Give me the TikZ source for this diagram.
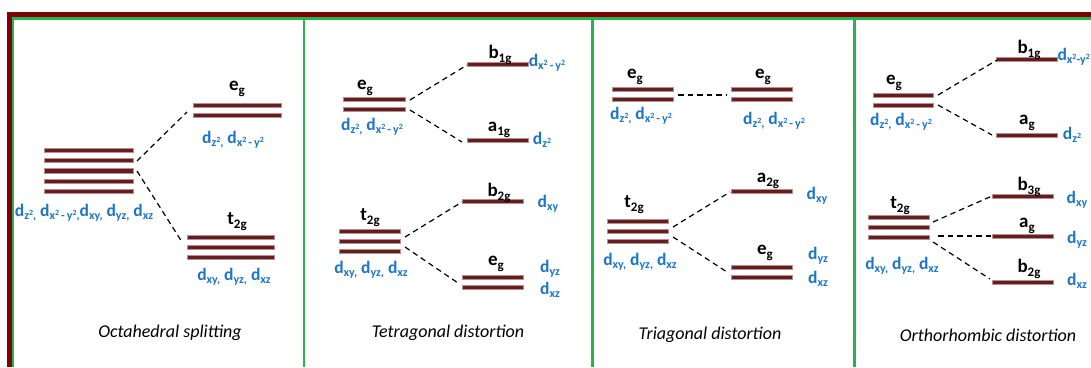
\documentclass[tikz,border=0pt]{standalone}
\usepackage{fontspec}
\setmainfont{Carlito}
\definecolor{barc}{RGB}{96,32,34}
\definecolor{baredge}{RGB}{190,140,140}
\definecolor{orbblue}{RGB}{28,118,200}
\definecolor{framered}{RGB}{128,0,10}
\definecolor{framegreen}{RGB}{40,178,80}
\newcommand\sbs[1]{\raisebox{-3.5pt}{\fontsize{12}{12}\selectfont #1}}
\newcommand\lsb[1]{\raisebox{-4pt}{\fontsize{13}{13}\selectfont #1}}
\newcommand\sq{\raisebox{4.5pt}{\fontsize{8}{8}\selectfont 2}}
\newcommand\dzz{d\sbs{z\sq}}
\newcommand\dxy{d\sbs{x\sq\,-\,y\sq}}
\newcommand\dxyt{d\sbs{x\sq-y\sq}}
\newcommand\lvl[4]{\node[bar, minimum width={#3-#2}] (#1) at ({(#2+#3)/2},#4) {};}
\begin{document}
\begin{tikzpicture}[x=1pt,y=-1pt,
  bar/.style={fill=barc, draw=baredge, line width=0.3pt, minimum height=4.3pt, inner sep=0pt, outer sep=0pt},
  conn/.style={draw=black, dash pattern=on 5.5pt off 4pt, line width=1.2pt},
  sym/.style={font=\fontsize{19}{19}\selectfont\bfseries, inner sep=0pt},
  orb/.style={font=\fontsize{17.5}{17.5}\selectfont\bfseries, text=orbblue, inner sep=0pt},
  ttl/.style={font=\fontsize{18}{18}\selectfont\itshape, inner sep=0pt},
  redline/.style={draw=framered, line width=5pt},
  greenline/.style={draw=framegreen, line width=2.5pt}]
\clip (0,0) rectangle (1091,367);
\fill[white] (0,0) rectangle (1091,367);
% frame
\draw[redline] (9.5,367) -- (9.5,14.5) -- (1095,14.5);
\draw[greenline] (13,367) -- (13,18.5) -- (1095,18.5);
\draw[greenline] (304,18) -- (304,367);
\draw[greenline] (592.5,18) -- (592.5,367);
\draw[greenline] (854.5,18) -- (854.5,367);

% ===== Octahedral splitting =====
\lvl{o1}{44}{133}{150}
\lvl{o2}{44}{133}{160.3}
\lvl{o3}{44}{133}{170.7}
\lvl{o4}{44}{133}{181}
\lvl{o5}{44}{133}{191}
\lvl{oe1}{193}{281}{105}
\lvl{oe2}{193}{281}{115}
\lvl{ot1}{187}{274}{237}
\lvl{ot2}{187}{274}{247}
\lvl{ot3}{187}{274}{257}
\node[orb] (oall) at (84,213) {\dzz\sbs{,} \dxy\sbs{,}d\sbs{xy,} d\sbs{yz,} d\sbs{xz}};
\node[sym] (oeg) at (237,89) {e\lsb{g}};
\node[orb] (oegd) at (233,140) {\dzz\sbs{,} \dxy};
\node[sym] (ot2g) at (237,222) {t\lsb{2g}};
\node[orb] (ot2gd) at (234,277) {d\sbs{xy,} d\sbs{yz,} d\sbs{xz}};
\coordinate (oA) at (137,161);
\coordinate (oB) at (187,112);
\coordinate (oC) at (137,171);
\coordinate (oD) at (182,242);
\draw[conn] (oA) -- (oB);
\draw[conn] (oC) -- (oD);
\node[ttl] (ottl) at (170,333) {Octahedral splitting};

% ===== Tetragonal distortion =====
\lvl{te1}{343}{405}{99}
\lvl{te2}{343}{405}{109}
\lvl{tb1}{467}{528}{64}
\lvl{ta1}{467}{528}{140}
\lvl{tt1}{339}{400}{231}
\lvl{tt2}{339}{400}{241}
\lvl{tt3}{339}{400}{251}
\lvl{tb2}{462}{523}{201}
\lvl{tee1}{462}{523}{277}
\lvl{tee2}{462}{523}{287}
\node[sym] (teg) at (365,88) {e\lsb{g}};
\node[orb] (tegd) at (372,127) {\dzz\sbs{,} \dxy};
\node[sym] (tb1g) at (500,55) {b\lsb{1g}};
\node[orb] (tb1gd) at (547,63) {\dxy};
\node[sym] (ta1g) at (499,130) {a\lsb{1g}};
\node[orb] (ta1gd) at (542,140) {\dzz};
\node[sym] (tt2g) at (370,218) {t\lsb{2g}};
\node[orb] (tt2gd) at (371,270) {d\sbs{xy,} d\sbs{yz,} d\sbs{xz}};
\node[sym] (tb2g) at (499,193) {b\lsb{2g}};
\node[orb] (tb2gd) at (548,204) {d\sbs{xy}};
\node[sym] (teg2) at (496,264) {e\lsb{g}};
\node[orb] (tyz) at (550,269) {d\sbs{yz}};
\node[orb] (txz) at (550,290) {d\sbs{xz}};
\coordinate (tA) at (410,100);
\coordinate (tB) at (467,65);
\coordinate (tC) at (410,110);
\coordinate (tD) at (462,142);
\coordinate (tE) at (405,237);
\coordinate (tF) at (462,202);
\coordinate (tG) at (405,247);
\coordinate (tH) at (458,283);
\draw[conn] (tA) -- (tB);
\draw[conn] (tC) -- (tD);
\draw[conn] (tE) -- (tF);
\draw[conn] (tG) -- (tH);
\node[ttl] (tttl) at (448,333) {Tetragonal distortion};

% ===== Triagonal distortion =====
\lvl{re1}{612}{673}{89}
\lvl{re2}{612}{673}{99}
\lvl{rf1}{731}{792}{89}
\lvl{rf2}{731}{792}{99}
\lvl{rt1}{607}{668}{221}
\lvl{rt2}{607}{668}{231}
\lvl{rt3}{607}{668}{241}
\lvl{ra2}{731}{792}{191}
\lvl{rg1}{731}{792}{267}
\lvl{rg2}{731}{792}{277}
\node[sym] (reg) at (635,77) {e\lsb{g}};
\node[orb] (regd) at (641,116) {\dzz\sbs{,} \dxy};
\node[sym] (rfg) at (763,77) {e\lsb{g}};
\node[orb] (rfgd) at (774,121) {\dzz\sbs{,} \dxy};
\node[sym] (rt2g) at (634,205) {t\lsb{2g}};
\node[orb] (rt2gd) at (640,262) {d\sbs{xy,} d\sbs{yz,} d\sbs{xz}};
\node[sym] (ra2g) at (768,181) {a\lsb{2g}};
\node[orb] (ra2gd) at (817,196) {d\sbs{xy}};
\node[sym] (rgg) at (765,253) {e\lsb{g}};
\node[orb] (ryz) at (818,256) {d\sbs{yz}};
\node[orb] (rxz) at (818,279) {d\sbs{xz}};
\coordinate (rA) at (678,95);
\coordinate (rB) at (727,95);
\coordinate (rC) at (673,227);
\coordinate (rD) at (730,192);
\coordinate (rE) at (673,237);
\coordinate (rF) at (727,272);
\draw[conn] (rA) -- (rB);
\draw[conn] (rC) -- (rD);
\draw[conn] (rE) -- (rF);
\node[ttl] (rttl) at (710,335) {Triagonal distortion};

% ===== Orthorhombic distortion =====
\lvl{he1}{873}{933}{95}
\lvl{he2}{873}{933}{105}
\lvl{hb1}{996}{1057}{59}
\lvl{ha1}{996}{1057}{135}
\lvl{ht1}{868}{929}{217}
\lvl{ht2}{868}{929}{227}
\lvl{ht3}{868}{929}{237}
\lvl{hb3}{992}{1053}{196}
\lvl{ha2}{992}{1053}{236}
\lvl{hb2}{992}{1053}{282}
\node[sym] (heg) at (894,83) {e\lsb{g}};
\node[orb] (hegd) at (901,122) {\dzz\sbs{,} \dxy};
\node[sym] (hb1g) at (1029,50) {b\lsb{1g}};
\node[orb, anchor=east] (hb1gd) at (1090,57) {\dxyt};
\node[sym] (hag) at (1027,123) {a\lsb{g}};
\node[orb] (hagd) at (1072,135) {\dzz};
\node[sym] (ht2g) at (900,206) {t\lsb{2g}};
\node[orb] (ht2gd) at (902,266) {d\sbs{xy,} d\sbs{yz,} d\sbs{xz}};
\node[sym] (hb3g) at (1029,187) {b\lsb{3g}};
\node[orb] (hxy) at (1077,200) {d\sbs{xy}};
\node[sym] (hag2) at (1027,226) {a\lsb{g}};
\node[orb] (hyz) at (1077,240) {d\sbs{yz}};
\node[sym] (hb2g) at (1029,269) {b\lsb{2g}};
\node[orb] (hxz) at (1077,281) {d\sbs{xz}};
\coordinate (hA) at (938,95);
\coordinate (hB) at (997,60);
\coordinate (hC) at (938,105);
\coordinate (hD) at (992,135);
\coordinate (hE) at (933,222);
\coordinate (hF) at (992,196);
\coordinate (hG) at (938,236);
\coordinate (hH) at (992,236);
\coordinate (hI) at (933,242);
\coordinate (hJ) at (990,279);
\draw[conn] (hA) -- (hB);
\draw[conn] (hC) -- (hD);
\draw[conn] (hE) -- (hF);
\draw[conn] (hG) -- (hH);
\draw[conn] (hI) -- (hJ);
\node[ttl] (httl) at (988,335) {Orthorhombic distortion};
\end{tikzpicture}
\end{document}
